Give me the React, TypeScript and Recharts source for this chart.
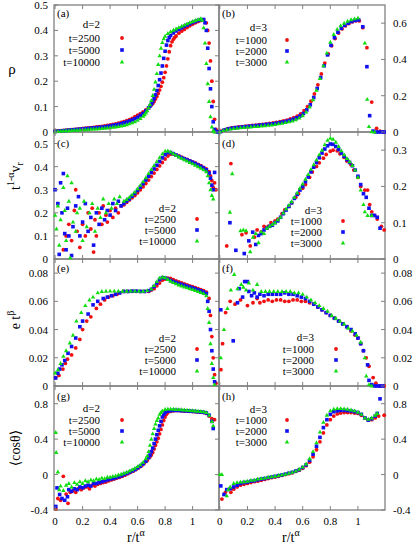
import { ScatterChart, Scatter, XAxis, YAxis } from 'recharts';

// (a) d=2 density
const aRed = [[0,0.003],[0.02,0.004],[0.04,0.005],[0.06,0.006],[0.08,0.007],[0.1,0.008],[0.12,0.009],[0.14,0.01],[0.16,0.011],[0.18,0.012],[0.2,0.014],[0.22,0.015],[0.24,0.016],[0.26,0.017],[0.28,0.018],[0.3,0.02],[0.32,0.021],[0.34,0.022],[0.36,0.024],[0.38,0.026],[0.4,0.028],[0.42,0.03],[0.44,0.032],[0.46,0.035],[0.48,0.038],[0.5,0.041],[0.52,0.045],[0.54,0.049],[0.56,0.054],[0.58,0.06],[0.6,0.066],[0.62,0.072],[0.64,0.079],[0.66,0.087],[0.68,0.096],[0.7,0.106],[0.71,0.112],[0.72,0.12],[0.73,0.13],[0.74,0.14],[0.75,0.152],[0.76,0.165],[0.77,0.18],[0.78,0.196],[0.79,0.214],[0.8,0.235],[0.81,0.26],[0.82,0.288],[0.83,0.316],[0.84,0.34],[0.85,0.355],[0.86,0.365],[0.87,0.372],[0.88,0.378],[0.9,0.389],[0.92,0.397],[0.94,0.404],[0.96,0.411],[0.98,0.418],[1,0.424],[1.02,0.43],[1.04,0.435],[1.06,0.439],[1.08,0.442],[1.1,0.43],[1.11,0.4],[1.12,0.35],[1.13,0.28],[1.14,0.2],[1.15,0.12],[1.16,0.05],[1.17,0.01],[1.18,0.002]];
const aBlue = [[0,0.002],[0.02,0.003],[0.04,0.004],[0.06,0.005],[0.08,0.006],[0.1,0.007],[0.12,0.008],[0.14,0.009],[0.16,0.01],[0.18,0.011],[0.2,0.012],[0.22,0.013],[0.24,0.014],[0.26,0.015],[0.28,0.016],[0.3,0.017],[0.32,0.018],[0.34,0.019],[0.36,0.02],[0.38,0.022],[0.4,0.024],[0.42,0.026],[0.44,0.028],[0.46,0.03],[0.48,0.033],[0.5,0.036],[0.52,0.039],[0.54,0.043],[0.56,0.047],[0.58,0.052],[0.6,0.058],[0.62,0.065],[0.64,0.073],[0.66,0.083],[0.68,0.095],[0.69,0.102],[0.7,0.11],[0.71,0.12],[0.72,0.132],[0.73,0.146],[0.74,0.163],[0.75,0.183],[0.76,0.206],[0.77,0.232],[0.78,0.26],[0.79,0.29],[0.8,0.318],[0.81,0.342],[0.82,0.36],[0.83,0.372],[0.84,0.38],[0.86,0.39],[0.88,0.398],[0.9,0.404],[0.92,0.41],[0.94,0.416],[0.96,0.421],[0.98,0.426],[1,0.431],[1.02,0.435],[1.04,0.439],[1.06,0.442],[1.08,0.443],[1.09,0.43],[1.1,0.4],[1.11,0.33],[1.12,0.25],[1.13,0.17],[1.14,0.1],[1.15,0.04],[1.16,0.01],[1.17,0.002],[1.18,0]];
const aGreen = [[0,0.001],[0.02,0.002],[0.04,0.003],[0.06,0.004],[0.08,0.005],[0.1,0.005],[0.12,0.006],[0.14,0.007],[0.16,0.007],[0.18,0.008],[0.2,0.009],[0.22,0.009],[0.24,0.01],[0.26,0.011],[0.28,0.012],[0.3,0.012],[0.32,0.013],[0.34,0.014],[0.36,0.015],[0.38,0.016],[0.4,0.017],[0.42,0.019],[0.44,0.02],[0.46,0.022],[0.48,0.024],[0.5,0.026],[0.52,0.029],[0.54,0.032],[0.56,0.036],[0.58,0.04],[0.6,0.046],[0.62,0.053],[0.64,0.062],[0.65,0.068],[0.66,0.075],[0.67,0.084],[0.68,0.095],[0.69,0.108],[0.7,0.124],[0.71,0.144],[0.72,0.168],[0.73,0.197],[0.74,0.23],[0.75,0.266],[0.76,0.3],[0.77,0.33],[0.78,0.352],[0.79,0.367],[0.8,0.377],[0.82,0.388],[0.84,0.395],[0.86,0.401],[0.88,0.406],[0.9,0.411],[0.92,0.416],[0.94,0.421],[0.96,0.426],[0.98,0.431],[1,0.435],[1.02,0.439],[1.04,0.443],[1.06,0.446],[1.07,0.44],[1.08,0.41],[1.09,0.35],[1.1,0.27],[1.11,0.19],[1.12,0.12],[1.13,0.06],[1.14,0.02],[1.15,0.005],[1.16,0]];

// (b) d=3 density
const bRed = [[0.01,0.004],[0.035,0.012],[0.06,0.018],[0.085,0.022],[0.11,0.025],[0.135,0.028],[0.16,0.03],[0.185,0.032],[0.21,0.034],[0.235,0.036],[0.26,0.038],[0.285,0.04],[0.31,0.042],[0.335,0.044],[0.36,0.047],[0.385,0.05],[0.41,0.053],[0.435,0.057],[0.46,0.061],[0.485,0.066],[0.51,0.072],[0.535,0.079],[0.56,0.088],[0.585,0.1],[0.61,0.117],[0.635,0.14],[0.66,0.17],[0.685,0.21],[0.71,0.26],[0.735,0.32],[0.76,0.38],[0.785,0.43],[0.81,0.475],[0.835,0.515],[0.86,0.545],[0.885,0.568],[0.91,0.585],[0.935,0.598],[0.96,0.607],[0.985,0.613],[1.01,0.612],[1.035,0.575],[1.065,0.465],[1.1,0.165],[1.135,0.02],[1.16,0.004],[1.185,0]];
const bBlue = [[0.005,0.002],[0.03,0.01],[0.055,0.016],[0.08,0.02],[0.105,0.023],[0.13,0.025],[0.155,0.027],[0.18,0.029],[0.205,0.031],[0.23,0.033],[0.255,0.035],[0.28,0.037],[0.305,0.039],[0.33,0.041],[0.355,0.043],[0.38,0.045],[0.405,0.048],[0.43,0.051],[0.455,0.055],[0.48,0.059],[0.505,0.064],[0.53,0.07],[0.555,0.078],[0.58,0.088],[0.605,0.102],[0.63,0.122],[0.655,0.15],[0.68,0.19],[0.705,0.24],[0.73,0.3],[0.755,0.365],[0.78,0.425],[0.805,0.478],[0.83,0.52],[0.855,0.55],[0.88,0.572],[0.905,0.588],[0.93,0.6],[0.955,0.609],[0.98,0.615],[1.005,0.618],[1.035,0.58],[1.065,0.36],[1.085,0.09],[1.11,0.005],[1.13,0],[1.15,0],[1.17,0],[1.19,0]];
const bGreen = [[0,0.001],[0.025,0.008],[0.05,0.013],[0.075,0.016],[0.1,0.019],[0.125,0.021],[0.15,0.023],[0.175,0.025],[0.2,0.026],[0.225,0.028],[0.25,0.03],[0.275,0.031],[0.3,0.033],[0.325,0.035],[0.35,0.037],[0.375,0.039],[0.4,0.042],[0.425,0.045],[0.45,0.048],[0.475,0.052],[0.5,0.056],[0.525,0.061],[0.55,0.068],[0.575,0.077],[0.6,0.09],[0.625,0.11],[0.65,0.138],[0.675,0.178],[0.7,0.23],[0.725,0.295],[0.75,0.365],[0.775,0.435],[0.8,0.495],[0.825,0.538],[0.85,0.566],[0.875,0.586],[0.9,0.6],[0.925,0.611],[0.95,0.619],[0.975,0.624],[1,0.628],[1.05,0.49],[1.067,0.18],[1.08,0.03],[1.1,0.002],[1.12,0]];

// (c) d=2 radial velocity
const cRed = [[0.06,0.04],[0.08,0.1],[0.1,0.15],[0.12,0.08],[0.14,0.21],[0.15,0.3],[0.16,0.12],[0.18,0.05],[0.2,0.15],[0.22,0.1],[0.24,0.2],[0.26,0.13],[0.27,0.22],[0.28,0.03],[0.29,0.17],[0.3,0.1],[0.32,0.2],[0.34,0.15],[0.35,0.23],[0.37,0.19],[0.38,0.16],[0.4,0.21],[0.42,0.18],[0.44,0.22],[0.46,0.2],[0.48,0.23],[0.5,0.235],[0.52,0.245],[0.54,0.255],[0.56,0.265],[0.58,0.275],[0.6,0.287],[0.62,0.3],[0.64,0.313],[0.66,0.327],[0.68,0.342],[0.7,0.357],[0.72,0.372],[0.74,0.388],[0.76,0.403],[0.78,0.418],[0.8,0.433],[0.82,0.446],[0.84,0.454],[0.86,0.455],[0.88,0.451],[0.9,0.446],[0.92,0.441],[0.94,0.436],[0.96,0.431],[0.98,0.426],[1,0.421],[1.02,0.416],[1.04,0.41],[1.06,0.404],[1.08,0.397],[1.1,0.39],[1.12,0.378],[1.13,0.36],[1.14,0.34],[1.15,0.31],[1.16,0.33],[1.17,0.3]];
const cBlue = [[0,0.3],[0.02,0.24],[0.04,0.33],[0.06,0.37],[0.03,0.02],[0.05,0.2],[0.07,0.11],[0.08,0.04],[0.09,0.22],[0.1,0.1],[0.12,0.015],[0.13,0.14],[0.15,0.23],[0.17,0.27],[0.18,0.1],[0.2,0.16],[0.22,0.24],[0.24,0.12],[0.26,0.18],[0.28,0.06],[0.3,0.2],[0.32,0.15],[0.34,0.22],[0.36,0.17],[0.38,0.21],[0.4,0.19],[0.42,0.24],[0.44,0.21],[0.46,0.25],[0.48,0.23],[0.5,0.24],[0.52,0.25],[0.54,0.26],[0.56,0.272],[0.58,0.284],[0.6,0.297],[0.62,0.311],[0.64,0.326],[0.66,0.342],[0.68,0.358],[0.7,0.374],[0.72,0.39],[0.74,0.406],[0.76,0.422],[0.78,0.438],[0.8,0.452],[0.82,0.461],[0.84,0.461],[0.86,0.456],[0.88,0.45],[0.9,0.444],[0.92,0.439],[0.94,0.434],[0.96,0.429],[0.98,0.424],[1,0.419],[1.02,0.413],[1.04,0.407],[1.06,0.401],[1.08,0.394],[1.1,0.386],[1.12,0.372],[1.13,0.35],[1.14,0.32],[1.15,0.3],[1.16,0.375]];
const cGreen = [[0,0.19],[0.01,0.13],[0.02,0.23],[0.03,0.06],[0.04,0.17],[0.06,0.31],[0.07,0.21],[0.08,0.08],[0.09,0.36],[0.1,0.25],[0.11,0.005],[0.12,0.33],[0.13,0.16],[0.15,0.12],[0.16,0.2],[0.18,0.22],[0.2,0.08],[0.21,0.25],[0.23,0.14],[0.25,0.2],[0.27,0.24],[0.29,0.12],[0.31,0.22],[0.33,0.18],[0.35,0.26],[0.37,0.2],[0.39,0.24],[0.41,0.22],[0.43,0.26],[0.45,0.24],[0.47,0.27],[0.5,0.25],[0.52,0.258],[0.54,0.267],[0.56,0.278],[0.58,0.29],[0.6,0.304],[0.62,0.319],[0.64,0.335],[0.66,0.352],[0.68,0.37],[0.7,0.388],[0.72,0.405],[0.74,0.422],[0.76,0.439],[0.78,0.455],[0.8,0.467],[0.82,0.468],[0.84,0.463],[0.86,0.456],[0.88,0.449],[0.9,0.442],[0.92,0.436],[0.94,0.43],[0.96,0.424],[0.98,0.418],[1,0.412],[1.02,0.406],[1.04,0.4],[1.06,0.393],[1.08,0.386],[1.1,0.378],[1.11,0.36],[1.12,0.33],[1.13,0.3],[1.14,0.275],[1.15,0.26]];

// (d) d=3 radial velocity
const dRed = [[0.05,0.036],[0.08,0.263],[0.16,0.067],[0.19,0.072],[0.22,0.036],[0.25,0.06],[0.27,0.08],[0.3,0.075],[0.32,0.09],[0.35,0.09],[0.37,0.1],[0.4,0.105],[0.42,0.11],[0.45,0.125],[0.47,0.135],[0.5,0.145],[0.52,0.155],[0.55,0.17],[0.57,0.18],[0.6,0.195],[0.62,0.205],[0.65,0.225],[0.67,0.24],[0.7,0.255],[0.72,0.265],[0.75,0.278],[0.77,0.288],[0.8,0.297],[0.82,0.3],[0.85,0.298],[0.87,0.29],[0.9,0.28],[0.92,0.27],[0.95,0.26],[0.97,0.245],[1,0.225],[1.02,0.2],[1.05,0.19],[1.07,0.19],[1.085,0.15],[1.1,0.13],[1.12,0.12],[1.14,0.11],[1.17,0.09],[1.19,0.08]];
const dBlue = [[0.073,0.1],[0.116,0.024],[0.177,0.015],[0.21,0.05],[0.238,0.074],[0.26,0.04],[0.28,0.065],[0.3,0.07],[0.32,0.08],[0.34,0.085],[0.36,0.09],[0.38,0.093],[0.4,0.1],[0.42,0.105],[0.44,0.115],[0.46,0.125],[0.48,0.135],[0.5,0.145],[0.52,0.155],[0.54,0.167],[0.56,0.178],[0.58,0.19],[0.6,0.2],[0.62,0.213],[0.64,0.226],[0.66,0.24],[0.68,0.253],[0.7,0.266],[0.72,0.279],[0.74,0.292],[0.76,0.303],[0.78,0.312],[0.8,0.317],[0.82,0.316],[0.84,0.31],[0.86,0.302],[0.88,0.292],[0.9,0.283],[0.92,0.274],[0.94,0.266],[0.96,0.257],[0.98,0.245],[1,0.228],[1.02,0.205],[1.04,0.18],[1.06,0.17],[1.08,0.14],[1.1,0.12],[1.12,0.12],[1.14,0.115],[1.16,0.085]];
const dGreen = [[0.073,0.129],[0.09,0.235],[0.15,0.078],[0.17,0.08],[0.19,0.078],[0.22,0.02],[0.24,0.06],[0.26,0.07],[0.28,0.045],[0.3,0.075],[0.32,0.07],[0.34,0.085],[0.36,0.09],[0.38,0.095],[0.4,0.1],[0.42,0.108],[0.44,0.115],[0.46,0.127],[0.48,0.138],[0.5,0.148],[0.52,0.158],[0.54,0.17],[0.56,0.182],[0.58,0.195],[0.6,0.207],[0.62,0.22],[0.64,0.233],[0.66,0.247],[0.68,0.26],[0.7,0.273],[0.72,0.287],[0.74,0.3],[0.76,0.315],[0.78,0.327],[0.8,0.333],[0.82,0.33],[0.84,0.322],[0.86,0.31],[0.88,0.298],[0.9,0.287],[0.92,0.277],[0.94,0.268],[0.96,0.258],[0.98,0.245],[1,0.225],[1.02,0.19],[1.04,0.15],[1.05,0.13],[1.07,0.12],[1.1,0.12]];

// (e) d=2 energy
const eRed = [[0.004,0.006],[0.028,0.0075],[0.057,0.012],[0.075,0.016],[0.09,0.019],[0.12,0.022],[0.15,0.027],[0.18,0.033],[0.2,0.04],[0.23,0.046],[0.26,0.049],[0.3,0.055],[0.33,0.058],[0.36,0.061],[0.39,0.063],[0.42,0.064],[0.45,0.065],[0.47,0.066],[0.5,0.067],[0.53,0.067],[0.56,0.067],[0.59,0.067],[0.62,0.067],[0.65,0.067],[0.68,0.067],[0.7,0.068],[0.72,0.069],[0.74,0.071],[0.76,0.073],[0.78,0.075],[0.8,0.0758],[0.82,0.0765],[0.84,0.0762],[0.86,0.0753],[0.88,0.0745],[0.9,0.0738],[0.92,0.073],[0.94,0.0723],[0.96,0.0716],[0.98,0.071],[1,0.0704],[1.02,0.0697],[1.04,0.069],[1.06,0.0683],[1.08,0.0675],[1.1,0.0665],[1.12,0.062],[1.13,0.05],[1.14,0.035],[1.15,0.02],[1.16,0.008],[1.17,0.002]];
const eBlue = [[0.004,0.0057],[0.02,0.009],[0.033,0.012],[0.05,0.015],[0.07,0.018],[0.094,0.0232],[0.12,0.028],[0.15,0.034],[0.18,0.042],[0.2,0.046],[0.24,0.051],[0.276,0.0575],[0.31,0.06],[0.35,0.062],[0.38,0.063],[0.41,0.064],[0.44,0.065],[0.47,0.066],[0.5,0.067],[0.53,0.067],[0.56,0.0672],[0.59,0.0672],[0.62,0.067],[0.65,0.067],[0.68,0.0675],[0.7,0.0685],[0.72,0.0705],[0.74,0.073],[0.76,0.0755],[0.78,0.0768],[0.8,0.0765],[0.82,0.0757],[0.84,0.0748],[0.86,0.074],[0.88,0.0733],[0.9,0.0726],[0.92,0.072],[0.94,0.0713],[0.96,0.0707],[0.98,0.0701],[1,0.0695],[1.02,0.0688],[1.04,0.0681],[1.06,0.0674],[1.08,0.0666],[1.1,0.0655],[1.11,0.06],[1.12,0.053],[1.13,0.04],[1.14,0.025],[1.15,0.012],[1.16,0.003]];
const eGreen = [[0,0.0092],[0.021,0.0116],[0.04,0.016],[0.06,0.021],[0.08,0.025],[0.107,0.0305],[0.13,0.036],[0.155,0.046],[0.19,0.052],[0.22,0.057],[0.25,0.061],[0.276,0.063],[0.31,0.066],[0.34,0.067],[0.37,0.0672],[0.4,0.0673],[0.43,0.0673],[0.46,0.0673],[0.49,0.0672],[0.52,0.0672],[0.55,0.0673],[0.58,0.0673],[0.61,0.0672],[0.64,0.0672],[0.67,0.0676],[0.7,0.0688],[0.72,0.0712],[0.74,0.074],[0.76,0.0765],[0.78,0.0772],[0.8,0.0767],[0.82,0.0755],[0.84,0.0743],[0.86,0.0733],[0.88,0.0724],[0.9,0.0716],[0.92,0.0709],[0.94,0.0702],[0.96,0.0696],[0.98,0.069],[1,0.0684],[1.02,0.0677],[1.04,0.067],[1.06,0.0663],[1.08,0.0655],[1.1,0.064],[1.11,0.055],[1.12,0.045],[1.13,0.03],[1.14,0.016],[1.15,0.006],[1.16,0.001]];

// (f) d=3 energy
const fRed = [[0.008,0.0116],[0.02,0.03],[0.042,0.052],[0.075,0.06],[0.11,0.058],[0.15,0.061],[0.2,0.057],[0.24,0.059],[0.27,0.062],[0.29,0.059],[0.32,0.06],[0.35,0.061],[0.38,0.06],[0.41,0.061],[0.44,0.061],[0.47,0.06],[0.5,0.06],[0.53,0.061],[0.56,0.061],[0.59,0.06],[0.62,0.06],[0.65,0.059],[0.68,0.058],[0.71,0.056],[0.74,0.054],[0.77,0.052],[0.8,0.05],[0.83,0.048],[0.86,0.046],[0.89,0.044],[0.92,0.042],[0.95,0.039],[0.98,0.036],[1,0.034],[1.02,0.03],[1.04,0.025],[1.06,0.02],[1.08,0.014],[1.11,0.006],[1.13,0.002],[1.16,0],[1.19,0]];
const fBlue = [[0.007,0.054],[0.097,0.032],[0.128,0.059],[0.14,0.069],[0.165,0.063],[0.18,0.074],[0.2,0.074],[0.21,0.067],[0.23,0.064],[0.25,0.066],[0.27,0.063],[0.29,0.065],[0.32,0.064],[0.35,0.065],[0.38,0.065],[0.41,0.065],[0.44,0.065],[0.47,0.066],[0.5,0.065],[0.53,0.065],[0.56,0.064],[0.59,0.063],[0.62,0.062],[0.65,0.06],[0.68,0.058],[0.71,0.056],[0.74,0.054],[0.77,0.052],[0.8,0.05],[0.83,0.048],[0.86,0.046],[0.89,0.044],[0.92,0.042],[0.95,0.04],[0.98,0.037],[1,0.034],[1.02,0.03],[1.04,0.025],[1.07,0.015],[1.08,0.004],[1.1,0.001],[1.12,0],[1.14,0],[1.16,0],[1.18,0]];
const fGreen = [[0.007,0.02],[0.03,0.04],[0.055,0.055],[0.08,0.068],[0.104,0.079],[0.128,0.069],[0.155,0.072],[0.17,0.07],[0.19,0.068],[0.21,0.073],[0.24,0.068],[0.27,0.072],[0.3,0.067],[0.33,0.067],[0.36,0.067],[0.39,0.067],[0.42,0.067],[0.45,0.067],[0.48,0.067],[0.51,0.067],[0.54,0.066],[0.57,0.066],[0.6,0.065],[0.63,0.063],[0.66,0.061],[0.69,0.059],[0.72,0.057],[0.75,0.055],[0.78,0.053],[0.81,0.05],[0.84,0.048],[0.87,0.046],[0.9,0.044],[0.93,0.041],[0.96,0.039],[0.99,0.036],[1.02,0.031],[1.05,0.02],[1.06,0.007],[1.08,0.001],[1.1,0]];

// (g) d=2 <cos theta>
const gRed = [[0.005,-0.39],[0.02,-0.27],[0.04,-0.29],[0.06,-0.02],[0.08,-0.22],[0.094,-0.325],[0.11,-0.2],[0.13,-0.18],[0.15,-0.2],[0.17,-0.16],[0.19,-0.17],[0.21,-0.15],[0.23,-0.14],[0.25,-0.16],[0.27,-0.12],[0.29,-0.13],[0.31,-0.11],[0.33,-0.1],[0.35,-0.09],[0.37,-0.085],[0.39,-0.07],[0.41,-0.06],[0.43,-0.05],[0.45,-0.04],[0.47,-0.03],[0.49,-0.02],[0.51,-0.005],[0.53,0.01],[0.55,0.025],[0.57,0.04],[0.59,0.06],[0.61,0.08],[0.63,0.1],[0.65,0.13],[0.67,0.16],[0.69,0.2],[0.7,0.22],[0.71,0.25],[0.72,0.29],[0.73,0.33],[0.74,0.37],[0.75,0.41],[0.76,0.46],[0.77,0.51],[0.78,0.56],[0.79,0.61],[0.8,0.65],[0.81,0.68],[0.82,0.7],[0.84,0.715],[0.86,0.72],[0.88,0.722],[0.9,0.722],[0.92,0.72],[0.94,0.718],[0.96,0.716],[0.98,0.714],[1,0.712],[1.02,0.71],[1.04,0.707],[1.06,0.704],[1.08,0.7],[1.1,0.69],[1.12,0.66],[1.14,0.63],[1.16,0.62]];
const gBlue = [[0.005,-0.36],[0.014,-0.15],[0.033,-0.225],[0.05,-0.27],[0.07,-0.29],[0.09,-0.25],[0.1,-0.17],[0.12,-0.19],[0.14,-0.16],[0.16,-0.17],[0.18,-0.14],[0.2,-0.15],[0.22,-0.13],[0.24,-0.12],[0.26,-0.13],[0.28,-0.1],[0.3,-0.1],[0.32,-0.09],[0.34,-0.08],[0.36,-0.07],[0.38,-0.06],[0.4,-0.05],[0.42,-0.045],[0.44,-0.035],[0.46,-0.025],[0.48,-0.015],[0.5,0],[0.52,0.012],[0.54,0.025],[0.56,0.04],[0.58,0.055],[0.6,0.075],[0.62,0.095],[0.64,0.12],[0.66,0.15],[0.68,0.19],[0.69,0.22],[0.7,0.26],[0.71,0.3],[0.72,0.35],[0.73,0.4],[0.74,0.45],[0.75,0.5],[0.76,0.55],[0.77,0.6],[0.78,0.65],[0.79,0.68],[0.8,0.7],[0.82,0.715],[0.84,0.722],[0.86,0.725],[0.88,0.725],[0.9,0.724],[0.92,0.722],[0.94,0.72],[0.96,0.718],[0.98,0.716],[1,0.714],[1.02,0.712],[1.04,0.709],[1.06,0.706],[1.08,0.703],[1.1,0.695],[1.12,0.67],[1.14,0.6],[1.15,0.52]];
const gGreen = [[0.005,0.475],[0.008,0.25],[0.02,0.03],[0.03,-0.17],[0.04,-0.13],[0.06,-0.18],[0.08,-0.12],[0.1,-0.1],[0.12,-0.14],[0.14,-0.09],[0.16,-0.11],[0.18,-0.08],[0.2,-0.1],[0.22,-0.07],[0.24,-0.08],[0.26,-0.06],[0.28,-0.07],[0.3,-0.05],[0.32,-0.055],[0.34,-0.04],[0.36,-0.045],[0.38,-0.03],[0.4,-0.03],[0.42,-0.02],[0.44,-0.015],[0.46,-0.005],[0.48,0.005],[0.5,0.015],[0.52,0.025],[0.54,0.04],[0.56,0.055],[0.58,0.07],[0.6,0.09],[0.62,0.11],[0.64,0.14],[0.66,0.18],[0.67,0.21],[0.68,0.26],[0.69,0.33],[0.7,0.4],[0.71,0.46],[0.72,0.52],[0.73,0.57],[0.74,0.61],[0.75,0.64],[0.76,0.68],[0.77,0.7],[0.78,0.72],[0.8,0.735],[0.82,0.74],[0.84,0.74],[0.86,0.738],[0.88,0.736],[0.9,0.734],[0.92,0.732],[0.94,0.73],[0.96,0.727],[0.98,0.724],[1,0.721],[1.02,0.718],[1.04,0.715],[1.06,0.712],[1.08,0.708],[1.1,0.7],[1.12,0.67],[1.14,0.6],[1.15,0.55]];

// (h) d=3 <cos theta>
const hRed = [[0.015,-0.277],[0.04,-0.2],[0.08,-0.2],[0.1,-0.165],[0.125,-0.14],[0.15,-0.12],[0.175,-0.11],[0.2,-0.1],[0.225,-0.09],[0.25,-0.08],[0.275,-0.075],[0.3,-0.065],[0.325,-0.055],[0.35,-0.045],[0.375,-0.035],[0.4,-0.028],[0.425,-0.02],[0.45,-0.01],[0.475,0],[0.5,0.01],[0.525,0.02],[0.55,0.035],[0.575,0.05],[0.6,0.07],[0.625,0.1],[0.65,0.14],[0.675,0.2],[0.7,0.28],[0.725,0.37],[0.75,0.47],[0.775,0.56],[0.8,0.62],[0.825,0.66],[0.85,0.685],[0.875,0.695],[0.9,0.7],[0.925,0.7],[0.95,0.7],[0.975,0.695],[1,0.69],[1.025,0.67],[1.05,0.64],[1.075,0.615],[1.1,0.62],[1.125,0.64],[1.15,0.66],[1.19,0.67]];
const hBlue = [[0.007,-0.128],[0.03,-0.225],[0.05,-0.17],[0.075,-0.16],[0.1,-0.14],[0.125,-0.12],[0.15,-0.1],[0.175,-0.09],[0.2,-0.085],[0.225,-0.075],[0.25,-0.07],[0.275,-0.06],[0.3,-0.05],[0.325,-0.045],[0.35,-0.035],[0.375,-0.028],[0.4,-0.02],[0.425,-0.012],[0.45,-0.005],[0.475,0.005],[0.5,0.015],[0.525,0.025],[0.55,0.04],[0.575,0.055],[0.6,0.08],[0.625,0.11],[0.65,0.16],[0.675,0.23],[0.7,0.32],[0.725,0.42],[0.75,0.53],[0.775,0.62],[0.8,0.68],[0.825,0.71],[0.85,0.72],[0.875,0.725],[0.9,0.725],[0.925,0.722],[0.95,0.718],[0.975,0.71],[1,0.7],[1.025,0.68],[1.05,0.64],[1.075,0.615],[1.1,0.63],[1.125,0.66],[1.14,0.69],[1.16,0.855]];
const hGreen = [[0,0],[0.015,0],[0.05,-0.24],[0.06,-0.17],[0.075,-0.14],[0.1,-0.1],[0.125,-0.09],[0.15,-0.085],[0.175,-0.08],[0.2,-0.075],[0.225,-0.065],[0.25,-0.06],[0.275,-0.05],[0.3,-0.045],[0.325,-0.04],[0.35,-0.03],[0.375,-0.025],[0.4,-0.018],[0.425,-0.01],[0.45,-0.003],[0.475,0.005],[0.5,0.015],[0.525,0.025],[0.55,0.04],[0.575,0.06],[0.6,0.085],[0.625,0.12],[0.65,0.18],[0.675,0.26],[0.7,0.36],[0.725,0.48],[0.75,0.59],[0.775,0.67],[0.8,0.72],[0.825,0.74],[0.85,0.745],[0.875,0.745],[0.9,0.742],[0.925,0.738],[0.95,0.73],[0.975,0.72],[1,0.705],[1.025,0.68],[1.05,0.64],[1.075,0.625],[1.1,0.64],[1.125,0.67],[1.14,0.69]];

const xTicks = [0, 0.2, 0.4, 0.6, 0.8, 1];
const rhoTicks2 = [0, 0.1, 0.2, 0.3, 0.4, 0.5];
const rhoTicks3 = [0, 0.2, 0.4, 0.6];
const velTicks3 = [0, 0.1, 0.2, 0.3];
const energyTicks = [0, 0.02, 0.04, 0.06, 0.08];
const cosTicks = [-0.4, 0, 0.4, 0.8];
const times2 = ['t=2500', 't=5000', 't=10000'];
const times3 = ['t=1000', 't=2000', 't=3000'];

const W = 415;
const H = 545;
const SERIF = '"Liberation Serif", "DejaVu Serif", serif';
const FRAME = '#808080';
const COLORS = ['#f01010', '#1010f0', '#10dd10'];
const COLS = [{ l: 54, r: 219 }, { l: 219, r: 385 }];
const ROWS = [{ t: 5, b: 132 }, { t: 132, b: 259 }, { t: 259, b: 386 }, { t: 386, b: 510 }];
const XDOM = [[-0.008, 1.192], [-0.006, 1.196]];

const PANELS = [
  { tag: '(a)', col: 0, row: 0, yDom: [0, 0.5], yTicks: rhoTicks2, data: [aRed, aBlue, aGreen], dim: 'd=2', times: times2, leg: { tx: 100, mx: 122, ys: [24, 38, 50, 62] } },
  { tag: '(b)', col: 1, row: 0, yDom: [0, 0.7], yTicks: rhoTicks3, data: [bRed, bBlue, bGreen], dim: 'd=3', times: times3, leg: { tx: 267, mx: 287, ys: [27, 40, 51, 62] } },
  { tag: '(c)', col: 0, row: 1, yDom: [0, 0.55], yTicks: rhoTicks2, data: [cRed, cBlue, cGreen], dim: 'd=2', times: times2, leg: { tx: 176, mx: 197, ys: [208, 219, 230, 241] } },
  { tag: '(d)', col: 1, row: 1, yDom: [0, 0.35], yTicks: velTicks3, data: [dRed, dBlue, dGreen], dim: 'd=3', times: times3, leg: { tx: 322, mx: 343, ys: [210, 221, 232, 243] } },
  { tag: '(e)', col: 0, row: 2, yDom: [0, 0.09], yTicks: energyTicks, data: [eRed, eBlue, eGreen], dim: 'd=2', times: times2, leg: { tx: 176, mx: 197, ys: [338, 349, 360, 371] } },
  { tag: '(f)', col: 1, row: 2, yDom: [0, 0.09], yTicks: energyTicks, data: [fRed, fBlue, fGreen], dim: 'd=3', times: times3, leg: { tx: 314, mx: 336, ys: [337, 349, 360, 371] } },
  { tag: '(g)', col: 0, row: 3, yDom: [-0.4, 1], yTicks: cosTicks, data: [gRed, gBlue, gGreen], dim: 'd=2', times: times2, leg: { tx: 100, mx: 122, ys: [408, 420, 431, 442] } },
  { tag: '(h)', col: 1, row: 3, yDom: [-0.4, 1], yTicks: cosTicks, data: [hRed, hBlue, hGreen], dim: 'd=3', times: times3, leg: { tx: 267, mx: 287, ys: [409, 420, 431, 442] } },
];
const TAG_Y = [17, 147, 272, 400];

function Marker({ kind, cx, cy }: { kind: number; cx: number; cy: number }) {
  if (kind === 0) return <circle cx={cx} cy={cy} r={1.9} fill={COLORS[0]} />;
  if (kind === 1) return <rect x={cx - 1.8} y={cy - 1.8} width={3.6} height={3.6} fill={COLORS[1]} />;
  return <polygon points={`${cx},${cy - 2.4} ${cx - 2.2},${cy + 1.5} ${cx + 2.2},${cy + 1.5}`} fill={COLORS[2]} />;
}

const labelStyle = { fontFamily: SERIF, fontSize: 11, fill: '#000' };

const xTick = (row: number, showLabel: boolean) => (p: any) => {
  const { t, b } = ROWS[row];
  return (
    <g>
      <line x1={p.x} x2={p.x} y1={b} y2={b - 4} stroke={FRAME} />
      <line x1={p.x} x2={p.x} y1={t} y2={t + 4} stroke={FRAME} />
      {showLabel && (
        <text x={p.x} y={b + 15} textAnchor="middle" style={labelStyle}>
          {String(p.payload.value)}
        </text>
      )}
    </g>
  );
};

const yTick = (col: number) => (p: any) => {
  const { l, r } = COLS[col];
  const label = String(p.payload.value);
  if (col === 0) {
    return (
      <g>
        <line x1={l} x2={l + 4} y1={p.y} y2={p.y} stroke={FRAME} />
        <line x1={r} x2={r - 4} y1={p.y} y2={p.y} stroke={FRAME} />
        <text x={l - 6} y={p.y + 4} textAnchor="end" style={labelStyle}>{label}</text>
      </g>
    );
  }
  return (
    <g>
      <line x1={r} x2={r - 4} y1={p.y} y2={p.y} stroke={FRAME} />
      <text x={r + 8} y={p.y + 4} textAnchor="start" style={labelStyle}>{label}</text>
    </g>
  );
};

const toPts = (arr: number[][]) => arr.map(([x, y]) => ({ x, y }));

function Panel({ cfg }: { cfg: (typeof PANELS)[number] }) {
  const { l, r } = COLS[cfg.col];
  const { t, b } = ROWS[cfg.row];
  return (
    <div style={{ position: 'absolute', left: 0, top: 0 }}>
      <ScatterChart width={W} height={H} margin={{ left: l - 1, top: t, right: W - r, bottom: H - b - 1 }}>
        <XAxis
          type="number"
          dataKey="x"
          domain={XDOM[cfg.col]}
          ticks={xTicks}
          interval={0}
          height={1}
          axisLine={false}
          tickLine={false}
          tick={xTick(cfg.row, cfg.row === 3)}
        />
        <YAxis
          type="number"
          dataKey="y"
          domain={cfg.yDom}
          ticks={cfg.yTicks}
          interval={0}
          width={1}
          axisLine={false}
          tickLine={false}
          tick={yTick(cfg.col)}
        />
        {cfg.data.map((series, k) => (
          <Scatter
            key={k}
            data={toPts(series)}
            isAnimationActive={false}
            shape={(p: any) => <Marker kind={k} cx={p.cx} cy={p.cy} />}
          />
        ))}
      </ScatterChart>
    </div>
  );
}

export default function App() {
  return (
    <div style={{ position: 'absolute', left: 0, top: 0, width: W, height: H, background: '#fff', fontFamily: SERIF }}>
      <svg width={W} height={H} style={{ position: 'absolute', left: 0, top: 0 }}>
        {PANELS.map((cfg) => {
          const { l, r } = COLS[cfg.col];
          const { t, b } = ROWS[cfg.row];
          return <rect key={cfg.tag} x={l} y={t} width={r - l} height={b - t} fill="none" stroke={FRAME} strokeWidth={1.3} />;
        })}
        {PANELS.map((cfg) => (
          <g key={cfg.tag + 'txt'} style={labelStyle}>
            <text x={cfg.col === 0 ? 57 : 222} y={TAG_Y[cfg.row]} style={labelStyle}>{cfg.tag}</text>
            <text x={cfg.leg.tx} y={cfg.leg.ys[0] + 4} textAnchor="end" style={labelStyle}>{cfg.dim}</text>
            {cfg.times.map((lab, k) => (
              <g key={lab}>
                <text x={cfg.leg.tx} y={cfg.leg.ys[k + 1] + 4} textAnchor="end" style={labelStyle}>{lab}</text>
                <Marker kind={k} cx={cfg.leg.mx} cy={cfg.leg.ys[k + 1]} />
              </g>
            ))}
          </g>
        ))}
        <g style={{ fontFamily: SERIF, fontSize: 14, fill: '#000' }}>
          <text x={12} y={74} textAnchor="middle" style={{ fontSize: 15 }}>ρ</text>
          <text transform="translate(20,176) rotate(-90)" textAnchor="middle">
            t<tspan dy={-6} style={{ fontSize: 10 }}>1-α</tspan>
            <tspan dy={6}>v</tspan>
            <tspan dy={3} style={{ fontSize: 10 }}>r</tspan>
          </text>
          <text transform="translate(20,320) rotate(-90)" textAnchor="middle">
            e t<tspan dy={-6} style={{ fontSize: 10 }}>β</tspan>
          </text>
          <text transform="translate(20,448) rotate(-90)" textAnchor="middle">⟨cosθ⟩</text>
          <text x={127} y={542}>
            r/t<tspan dy={-6} style={{ fontSize: 10 }}>α</tspan>
          </text>
          <text x={282} y={542}>
            r/t<tspan dy={-6} style={{ fontSize: 10 }}>α</tspan>
          </text>
        </g>
      </svg>
      {PANELS.map((cfg) => (
        <Panel key={cfg.tag} cfg={cfg} />
      ))}
    </div>
  );
}
